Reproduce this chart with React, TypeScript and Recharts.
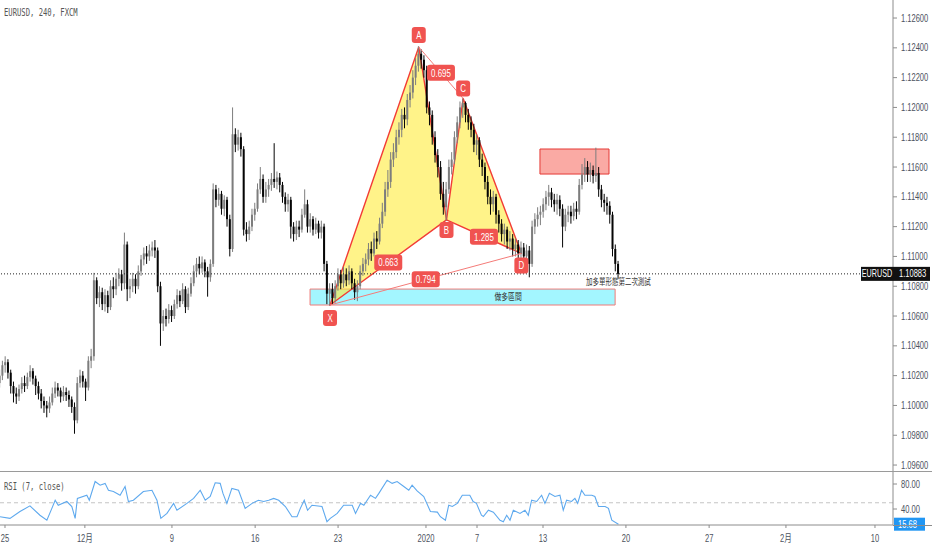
import {
  ComposedChart,
  LineChart,
  Bar,
  Line,
  XAxis,
  YAxis,
  ReferenceArea,
  ReferenceLine,
  ReferenceDot,
} from "recharts";

// ---- data ----

// 4h candles, open = previous close. each entry is [high, low, close]
const firstOpen = 1.1015;

const barsA: [number, number, number][] = [
  [1.1024, 1.1012, 1.102], [1.103, 1.1017, 1.1027], [1.1033, 1.1022, 1.1029], [1.1031, 1.1018, 1.1022], [1.1024, 1.1008, 1.1013],
  [1.1016, 1.1002, 1.1008], [1.1012, 1.1001, 1.1006], [1.1014, 1.1003, 1.1011], [1.1019, 1.1008, 1.1015], [1.102, 1.1009, 1.1013],
  [1.1022, 1.1011, 1.1019], [1.1027, 1.1016, 1.1023], [1.1025, 1.1014, 1.1018], [1.102, 1.1007, 1.1013], [1.1016, 1.1004, 1.1008],
  [1.1011, 1.0998, 1.1003], [1.1006, 1.0995, 1.1], [1.1003, 1.0992, 1.0998], [1.1006, 1.0995, 1.1002], [1.1012, 1.1, 1.1008],
  [1.1016, 1.1005, 1.1012], [1.1015, 1.1006, 1.101], [1.1012, 1.1002, 1.1006], [1.1013, 1.1003, 1.1009], [1.1012, 1.1003, 1.1007],
  [1.101, 1.0999, 1.1004], [1.1006, 1.0995, 1.0999], [1.1002, 1.0981, 1.099], [1.1019, 1.0988, 1.1015], [1.1024, 1.1012, 1.102],
  [1.1023, 1.1012, 1.1016], [1.1018, 1.1003, 1.1012], [1.1033, 1.101, 1.103], [1.1038, 1.1025, 1.1033], [1.1089, 1.103, 1.1084],
  [1.1086, 1.1068, 1.1072], [1.108, 1.1066, 1.1076], [1.1079, 1.1064, 1.1068], [1.1078, 1.1063, 1.1074], [1.1077, 1.1062, 1.1066],
];

const barsB: [number, number, number][] = [
  [1.1084, 1.1064, 1.108], [1.1086, 1.1072, 1.1078], [1.1089, 1.1074, 1.1085], [1.1092, 1.108, 1.1088], [1.1091, 1.1077, 1.1082],
  [1.1116, 1.1078, 1.1108], [1.111, 1.107, 1.1078], [1.1085, 1.1072, 1.108], [1.1089, 1.1076, 1.1085], [1.1088, 1.1075, 1.108],
  [1.1094, 1.1078, 1.109], [1.1101, 1.1087, 1.1098], [1.1106, 1.1094, 1.1102], [1.1107, 1.1095, 1.11], [1.1108, 1.1097, 1.1104],
  [1.111, 1.11, 1.1106], [1.1111, 1.1099, 1.1104], [1.1106, 1.1076, 1.108], [1.1083, 1.104, 1.1055], [1.1064, 1.105, 1.106],
  [1.1065, 1.1053, 1.1058], [1.1068, 1.1055, 1.1064], [1.1067, 1.1056, 1.106], [1.1071, 1.1058, 1.1068], [1.1078, 1.1065, 1.1074],
  [1.1077, 1.1066, 1.107], [1.1082, 1.1068, 1.1078], [1.108, 1.1062, 1.1066], [1.1079, 1.1064, 1.1075], [1.1086, 1.1073, 1.1082],
  [1.1094, 1.108, 1.109], [1.1099, 1.1086, 1.1095], [1.11, 1.1088, 1.1092], [1.11, 1.1089, 1.1096], [1.1098, 1.1086, 1.109],
  [1.1093, 1.1073, 1.1086], [1.1098, 1.1083, 1.1095], [1.1149, 1.1093, 1.1145], [1.1148, 1.1133, 1.1138], [1.1146, 1.1134, 1.1142],
];

const barsC: [number, number, number][] = [
  [1.1144, 1.1128, 1.1132], [1.1141, 1.1127, 1.1138], [1.114, 1.112, 1.1125], [1.1128, 1.11, 1.1105], [1.12, 1.1103, 1.1182],
  [1.1186, 1.117, 1.1175], [1.1185, 1.1171, 1.118], [1.1183, 1.1167, 1.1172], [1.1174, 1.1114, 1.1118], [1.1123, 1.111, 1.1115],
  [1.1124, 1.1111, 1.112], [1.1132, 1.1117, 1.1128], [1.1136, 1.1124, 1.1132], [1.1149, 1.113, 1.1145], [1.116, 1.1142, 1.1152],
  [1.1155, 1.1136, 1.114], [1.115, 1.1136, 1.1145], [1.1152, 1.114, 1.1148], [1.1156, 1.1144, 1.1152], [1.1176, 1.1146, 1.115],
  [1.1157, 1.1145, 1.1153], [1.1156, 1.1143, 1.1148], [1.115, 1.1136, 1.114], [1.1143, 1.113, 1.1135], [1.1142, 1.113, 1.1138],
  [1.114, 1.1112, 1.112], [1.1123, 1.111, 1.1115], [1.1124, 1.1111, 1.112], [1.1124, 1.1113, 1.1118], [1.1132, 1.1116, 1.1128],
  [1.1145, 1.1126, 1.1135], [1.1138, 1.1116, 1.112], [1.1129, 1.1116, 1.1125], [1.1127, 1.1114, 1.1118], [1.1126, 1.1115, 1.1122],
  [1.1124, 1.1112, 1.1116], [1.1124, 1.1112, 1.112], [1.1122, 1.109, 1.1095], [1.1097, 1.1068, 1.1075], [1.1082, 1.1067, 1.1078],
];

const barsD: [number, number, number][] = [
  [1.1082, 1.1068, 1.1072], [1.1084, 1.1069, 1.108], [1.1092, 1.1077, 1.1088], [1.1091, 1.1078, 1.1082], [1.1093, 1.1079, 1.1088],
  [1.1092, 1.108, 1.1084], [1.1094, 1.1081, 1.109], [1.1092, 1.1078, 1.1082], [1.1085, 1.1071, 1.1076], [1.1084, 1.107, 1.108],
  [1.1094, 1.1078, 1.109], [1.1099, 1.1087, 1.1095], [1.1102, 1.109, 1.1098], [1.1109, 1.1094, 1.1105], [1.111, 1.1097, 1.1102],
  [1.1116, 1.11, 1.1112], [1.1117, 1.1105, 1.111], [1.1126, 1.1108, 1.1122], [1.1136, 1.1119, 1.113], [1.115, 1.1127, 1.1145],
  [1.1158, 1.114, 1.115], [1.117, 1.1146, 1.1165], [1.1176, 1.116, 1.117], [1.1185, 1.1166, 1.118], [1.119, 1.1175, 1.1185],
  [1.1199, 1.118, 1.1195], [1.12, 1.1186, 1.1192], [1.1209, 1.1188, 1.1205], [1.1215, 1.12, 1.121], [1.1225, 1.1206, 1.122],
  [1.1233, 1.1215, 1.1228], [1.1241, 1.1224, 1.1236], [1.1239, 1.1226, 1.1232], [1.1235, 1.122, 1.1225], [1.1228, 1.1196, 1.12],
  [1.1204, 1.1188, 1.1195], [1.1198, 1.1175, 1.118], [1.1184, 1.1163, 1.1168], [1.1172, 1.1153, 1.116], [1.1164, 1.1138, 1.1142],
];

const barsE: [number, number, number][] = [
  [1.115, 1.1128, 1.1133], [1.115, 1.1124, 1.1145], [1.1165, 1.1142, 1.116], [1.117, 1.1155, 1.1165], [1.1184, 1.1162, 1.118],
  [1.1194, 1.1176, 1.119], [1.1204, 1.1186, 1.12], [1.1206, 1.1193, 1.1203], [1.1204, 1.119, 1.1195], [1.1199, 1.1185, 1.119],
  [1.1194, 1.118, 1.1185], [1.1189, 1.117, 1.1175], [1.1182, 1.1168, 1.1178], [1.118, 1.116, 1.1165], [1.1169, 1.1154, 1.116],
  [1.1163, 1.1145, 1.115], [1.1154, 1.1135, 1.114], [1.1145, 1.1128, 1.1135], [1.1144, 1.113, 1.114], [1.1142, 1.1122, 1.1128],
  [1.1131, 1.1116, 1.1122], [1.1125, 1.111, 1.1115], [1.1122, 1.1108, 1.1118], [1.112, 1.1105, 1.111], [1.1117, 1.1104, 1.1112],
  [1.1115, 1.11, 1.1105], [1.1112, 1.11, 1.1108], [1.1111, 1.1098, 1.1102], [1.111, 1.1099, 1.1106], [1.1109, 1.1095, 1.11],
  [1.1108, 1.1096, 1.1104], [1.1107, 1.1086, 1.1095], [1.1124, 1.1093, 1.112], [1.1129, 1.1115, 1.1125], [1.1133, 1.112, 1.1128],
  [1.1134, 1.1121, 1.113], [1.1139, 1.1126, 1.1135], [1.1144, 1.1131, 1.114], [1.1148, 1.1134, 1.1143], [1.1146, 1.1133, 1.1138],
];

const barsF: [number, number, number][] = [
  [1.1142, 1.113, 1.1135], [1.1142, 1.1128, 1.1138], [1.1141, 1.1127, 1.1132], [1.1135, 1.1106, 1.112], [1.1132, 1.1117, 1.1128],
  [1.1134, 1.1123, 1.113], [1.1134, 1.1122, 1.1127], [1.1136, 1.1124, 1.1132], [1.1137, 1.1125, 1.113], [1.1152, 1.1128, 1.1148],
  [1.1162, 1.1145, 1.1155], [1.1166, 1.115, 1.116], [1.1164, 1.115, 1.1155], [1.1163, 1.115, 1.1158], [1.1161, 1.1149, 1.1154],
  [1.1173, 1.115, 1.1156], [1.116, 1.114, 1.1145], [1.1148, 1.1133, 1.1138], [1.1142, 1.113, 1.1136], [1.114, 1.1128, 1.1134],
  [1.1137, 1.1122, 1.1128], [1.113, 1.11, 1.1105], [1.1108, 1.109, 1.1095], [1.1097, 1.1085, 1.10883],
];

const candleSegments = [barsA, barsB, barsC, barsD, barsE, barsF];

// RSI(7) trace, [bar index, value]
const rsiTrace: [number, number][] = [
  [0, 27.7], [3.6, 25], [7.2, 36], [10.8, 45], [14.4, 30], [16.9, 22], [18.7, 41], [19.9, 54], [21, 46], [24.1, 52],
  [25.9, 44], [27.1, 25], [27.9, 57], [31.3, 62], [32.2, 54], [34.3, 84], [36.1, 78], [37.9, 81], [39.1, 70], [40.9, 68],
  [43.3, 62], [45.1, 76], [46.3, 52], [48.1, 54], [51.7, 68], [54.8, 70], [56.6, 54], [58, 25], [60.2, 33], [62.6, 49],
  [63.8, 38], [67.4, 49], [69.8, 57], [72.2, 70], [74, 54], [75.8, 60], [77.6, 82], [79.4, 81], [80.4, 65], [81.8, 49],
  [83.6, 73], [86, 70], [88.4, 41], [90.9, 49], [93.2, 54], [95.1, 52], [96.9, 54], [98.7, 57], [100.5, 54], [102.9, 44],
  [105.3, 27.7], [107.1, 27.7], [108.3, 41], [109.7, 54], [110.9, 38], [112.5, 46], [116.1, 44], [117.9, 19.7], [119.1, 25], [121.6, 33],
  [123.9, 46], [127, 46], [128.2, 33], [130, 49], [131.2, 46], [133.6, 62], [135.4, 57], [136.6, 65], [139.6, 86], [141.4, 81],
  [143.2, 84], [145.6, 76], [147.4, 70], [148.6, 78], [150.4, 69], [152.8, 60], [155.2, 36], [157.7, 35], [158.8, 27.7], [160.6, 22],
  [161.8, 46], [163.1, 44], [164.9, 49], [166.7, 62], [168.5, 62], [169.4, 62], [170.6, 52], [171.8, 49], [173.6, 30], [174.3, 28],
  [176.1, 38], [177.9, 35], [180.3, 22], [181.5, 19.7], [182.7, 30], [183.9, 22], [185.1, 38], [187.5, 33], [189.3, 38], [190.5, 30],
  [191.7, 54], [193.5, 52], [195.3, 62], [196.5, 49], [198.1, 65], [200.1, 60], [201.9, 62], [203.1, 38], [204.3, 54], [206.1, 52],
  [207.3, 57], [208.3, 49], [209.7, 70], [210.9, 62], [213.4, 62], [214.5, 60], [215.8, 44], [218.2, 44], [219.4, 41], [220.6, 22],
  [223, 15.68],
];

const priceTicks = [
  1.096, 1.098, 1.1, 1.102, 1.104, 1.106, 1.108, 1.11, 1.112, 1.114, 1.116, 1.118, 1.12, 1.122, 1.124, 1.126,
];
const rsiTicks = [40, 80];
const timeTicks = [1.8, 30.6, 62, 92, 121.9, 153.6, 172, 195.8, 225.7, 255.7, 283.4, 315.5];
const timeLabels = ["25", "12月", "9", "16", "23", "2020", "7", "13", "20", "27", "2月", "10"];

// XABCD pattern pivots
const pivotNames = ["X", "A", "B", "C", "D"];
const pivotBar = [119, 151, 161, 167, 188];
const pivotPrice = [1.10674, 1.12405, 1.11245, 1.1206, 1.1102];
// ratio labels sit on the leg between two pivots
const ratioText = ["0.663", "0.695", "1.285", "0.794"];
const ratioLegs = [[0, 2], [1, 3], [2, 4], [0, 4]];

const longZone = { x1: 111.8, x2: 221.8, y1: 1.10674, y2: 1.10781, text: "做多區間", textBar: 183.2, textPrice: 1.10734 };
const supplyZone = { x1: 194.7, x2: 219.6, y1: 1.11553, y2: 1.11721 };
const noteText = "加多單形態第二次測試";
const notePrice = 1.10828;

const lastClose = 1.10883;
const lastRsi = 15.68;

// ---- build rows ----
const candles = (() => {
  const rows: any[] = [];
  let prev = firstOpen;
  let i = 0;
  for (const seg of candleSegments) {
    for (const [high, low, close] of seg) {
      rows.push({ i, open: prev, high, low, close, range: [low, high] });
      prev = close;
      i++;
    }
  }
  return rows;
})();
const lastBar = candles.length - 1;

const rsiRows = rsiTrace.map(([i, v]) => ({ i, v }));

// ---- styles ----
const W = 932;
const SLOTS = 322;
const AXIS_W = 39;
const SANS = "'Liberation Sans', Arial, 'Noto Sans CJK TC', sans-serif";
const MONO = "'DejaVu Sans Mono', monospace";
const CJK = "'Noto Sans CJK TC', 'Noto Sans CJK SC', sans-serif";
const AXIS_TEXT = "#4c525e";
const AXIS_LINE = "#8c8c8c";
const TAG_RED = "#f05350";
const LEG_RED = "#f23c36";
const SQUEEZE = 0.72;

function SqText({ x, y, text, size = 10.5, fill = AXIS_TEXT, anchor = "start", family = SANS }: any) {
  return (
    <text
      transform={`translate(${x},${y}) scale(${SQUEEZE},1)`}
      fontSize={size}
      fill={fill}
      textAnchor={anchor}
      fontFamily={family}
    >
      {text}
    </text>
  );
}

const Candle = (props: any) => {
  const { x, y, width, height, payload } = props;
  if (!payload || height == null) return null;
  const { open, close, high, low } = payload;
  const cx = x + width / 2;
  const k = height / (high - low);
  const yO = y + (high - open) * k;
  const yC = y + (high - close) * k;
  const color = close >= open ? "#7d7d7d" : "#050505";
  const top = Math.min(yO, yC);
  const h = Math.max(1, Math.abs(yO - yC));
  return (
    <g>
      <line x1={cx} x2={cx} y1={y} y2={y + height} stroke={color} strokeWidth={1} />
      <rect x={cx - 1} y={top} width={2} height={h} fill={color} />
    </g>
  );
};

// polygon drawn inside a ReferenceArea's box
function polygonShape(idx: number[], fill: string, stroke: string) {
  const xs = idx.map((k) => pivotBar[k]);
  const ys = idx.map((k) => pivotPrice[k]);
  const x1 = Math.min(...xs);
  const x2 = Math.max(...xs);
  const lo = Math.min(...ys);
  const hi = Math.max(...ys);
  return (p: any) => {
    const px = (v: number) => p.x + ((v - x1) / (x2 - x1)) * p.width;
    const py = (v: number) => p.y + ((hi - v) / (hi - lo)) * p.height;
    const pts = idx.map((k) => `${px(pivotBar[k])},${py(pivotPrice[k])}`).join(" ");
    return <polygon points={pts} fill={fill} stroke={stroke} strokeWidth={1.4} strokeLinejoin="round" />;
  };
}

function Tag({ cx, cy, text, w }: any) {
  return (
    <g>
      <rect x={cx - w / 2} y={cy - 8} width={w} height={16} rx={3} fill={TAG_RED} />
      <SqText x={cx} y={cy + 4} text={text} size={11} fill="#fff" anchor="middle" />
    </g>
  );
}

const pivotOffset = [13, -12, 10, -10, 12];

const PriceTick = (p: any) => (
  <SqText x={p.x + 2} y={p.y + 3.5} text={Number(p.payload.value).toFixed(5)} />
);
const RsiTick = (p: any) => <SqText x={p.x + 2} y={p.y + 3.5} text={Number(p.payload.value).toFixed(2)} />;
const TimeTick = (p: any) => {
  const k = timeTicks.indexOf(p.payload.value);
  return <SqText x={p.x} y={p.y + 12} text={timeLabels[k]} anchor="middle" family={SANS} />;
};

function triArea(idx: number[], fill: string) {
  const xs = idx.map((k) => pivotBar[k]);
  const ys = idx.map((k) => pivotPrice[k]);
  return (
    <ReferenceArea
      x1={Math.min(...xs)}
      x2={Math.max(...xs)}
      y1={Math.min(...ys)}
      y2={Math.max(...ys)}
      shape={polygonShape(idx, fill, LEG_RED)}
    />
  );
}

export default function App() {
  return (
    <div
      style={{
        position: "fixed",
        left: 0,
        top: 0,
        width: W,
        height: 550,
        background: "#fff",
        overflow: "hidden",
      }}
    >
      <div style={{ position: "absolute", left: 0, top: 0 }}>
        <ComposedChart width={W} height={471} data={candles} margin={{ top: 0, right: 0, bottom: 0, left: 0 }}>
          <XAxis type="number" dataKey="i" domain={[0, SLOTS]} hide allowDataOverflow />
          <YAxis
            orientation="right"
            width={AXIS_W}
            domain={[1.0956, 1.12721]}
            ticks={priceTicks}
            interval={0}
            allowDataOverflow
            tickSize={4}
            tick={PriceTick}
            tickLine={{ stroke: AXIS_LINE }}
            axisLine={{ stroke: AXIS_LINE }}
          />
          <ReferenceArea
            x1={longZone.x1}
            x2={longZone.x2}
            y1={longZone.y1}
            y2={longZone.y2}
            fill="#00e5ff"
            fillOpacity={0.36}
            stroke="#ef7b78"
            strokeWidth={1}
          />
          <ReferenceArea
            x1={supplyZone.x1}
            x2={supplyZone.x2}
            y1={supplyZone.y1}
            y2={supplyZone.y2}
            fill="#f44336"
            fillOpacity={0.45}
            stroke="#e53935"
            strokeWidth={1}
          />
          {triArea([0, 1, 2], "rgba(255,235,59,0.6)")}
          {triArea([2, 3, 4], "rgba(255,235,59,0.6)")}
          <ReferenceLine
            segment={[
              { x: pivotBar[0], y: pivotPrice[0] },
              { x: pivotBar[4], y: pivotPrice[4] },
            ]}
            stroke="#f47b78"
            strokeWidth={1}
          />
          <ReferenceLine
            segment={[
              { x: pivotBar[1], y: pivotPrice[1] },
              { x: pivotBar[3], y: pivotPrice[3] },
            ]}
            stroke="#f47b78"
            strokeWidth={1}
          />
          <ReferenceLine y={lastClose} stroke="#222" strokeDasharray="1 2" strokeWidth={1} />
          <Bar dataKey="range" barSize={2} shape={Candle} isAnimationActive={false} />
          {pivotNames.map((n, k) => (
            <ReferenceDot
              key={n}
              x={pivotBar[k]}
              y={pivotPrice[k]}
              r={0}
              ifOverflow="visible"
              shape={(p: any) => <Tag cx={p.cx} cy={p.cy + pivotOffset[k]} text={n} w={14} />}
            />
          ))}
          {ratioText.map((t, k) => {
            const [a, b] = ratioLegs[k];
            return (
              <ReferenceDot
                key={t}
                x={(pivotBar[a] + pivotBar[b]) / 2}
                y={(pivotPrice[a] + pivotPrice[b]) / 2}
                r={0}
                ifOverflow="visible"
                shape={(p: any) => <Tag cx={p.cx} cy={p.cy} text={t} w={28} />}
              />
            );
          })}
          <ReferenceDot
            x={longZone.textBar}
            y={longZone.textPrice}
            r={0}
            ifOverflow="visible"
            shape={(p: any) => (
              <SqText x={p.cx} y={p.cy + 3.5} text={longZone.text} size={9.5} fill="#333" anchor="middle" family={CJK} />
            )}
          />
          <ReferenceDot
            x={lastBar}
            y={notePrice}
            r={0}
            ifOverflow="visible"
            shape={(p: any) => (
              <SqText x={p.cx} y={p.cy + 3} text={noteText} size={9} fill="#333" anchor="middle" family={CJK} />
            )}
          />
          <ReferenceDot
            x={SLOTS}
            y={lastClose}
            r={0}
            ifOverflow="visible"
            shape={(p: any) => (
              <g>
                <rect x={p.cx - 32} y={p.cy - 7} width={32} height={14} fill="#111" />
                <SqText x={p.cx - 16} y={p.cy + 3.5} text="EURUSD" size={10} fill="#fff" anchor="middle" />
                <rect x={p.cx} y={p.cy - 7} width={37} height={14} fill="#111" />
                <SqText x={p.cx + 6} y={p.cy + 3.5} text={lastClose.toFixed(5)} fill="#fff" />
              </g>
            )}
          />
        </ComposedChart>
      </div>

      <div style={{ position: "absolute", left: 0, top: 472 }}>
        <LineChart width={W} height={78} data={rsiRows} margin={{ top: 0, right: 0, bottom: 0, left: 0 }}>
          <XAxis
            type="number"
            dataKey="i"
            domain={[0, SLOTS]}
            ticks={timeTicks}
            interval={0}
            allowDataOverflow
            height={25}
            tickSize={3}
            tick={TimeTick}
            tickLine={{ stroke: AXIS_LINE }}
            axisLine={{ stroke: AXIS_LINE }}
          />
          <YAxis
            orientation="right"
            width={AXIS_W}
            domain={[14.4, 99.2]}
            ticks={rsiTicks}
            interval={0}
            allowDataOverflow
            tickSize={4}
            tick={RsiTick}
            tickLine={{ stroke: AXIS_LINE }}
            axisLine={{ stroke: AXIS_LINE }}
          />
          <ReferenceLine y={50} stroke="#c4c4c4" strokeDasharray="4 3" />
          <Line type="linear" dataKey="v" stroke="#5ea9ee" strokeWidth={1.1} dot={false} isAnimationActive={false} />
          <ReferenceDot
            x={SLOTS}
            y={lastRsi}
            r={0}
            ifOverflow="visible"
            shape={(p: any) => (
              <g>
                <rect x={p.cx + 1} y={p.cy - 6.5} width={31} height={13} fill="#2196f3" />
                <SqText x={p.cx + 5} y={p.cy + 3.5} text={lastRsi.toFixed(2)} fill="#fff" />
              </g>
            )}
          />
        </LineChart>
      </div>

      {/* pane borders */}
      <div style={{ position: "absolute", left: 0, top: 471, width: W, height: 1, background: "#9a9a9a" }} />
      <div style={{ position: "absolute", left: 893, top: 525, width: W - 893, height: 1, background: AXIS_LINE }} />

      <div
        style={{
          position: "absolute",
          left: 4,
          top: 7,
          fontFamily: MONO,
          fontSize: 10,
          lineHeight: "12px",
          color: "#555",
          transform: `scaleX(${SQUEEZE})`,
          transformOrigin: "0 0",
          whiteSpace: "nowrap",
        }}
      >
        EURUSD, 240, FXCM
      </div>
      <div
        style={{
          position: "absolute",
          left: 4,
          top: 481,
          fontFamily: MONO,
          fontSize: 10,
          lineHeight: "12px",
          color: "#555",
          transform: `scaleX(${SQUEEZE})`,
          transformOrigin: "0 0",
          whiteSpace: "nowrap",
        }}
      >
        RSI (7, close)
      </div>
    </div>
  );
}
